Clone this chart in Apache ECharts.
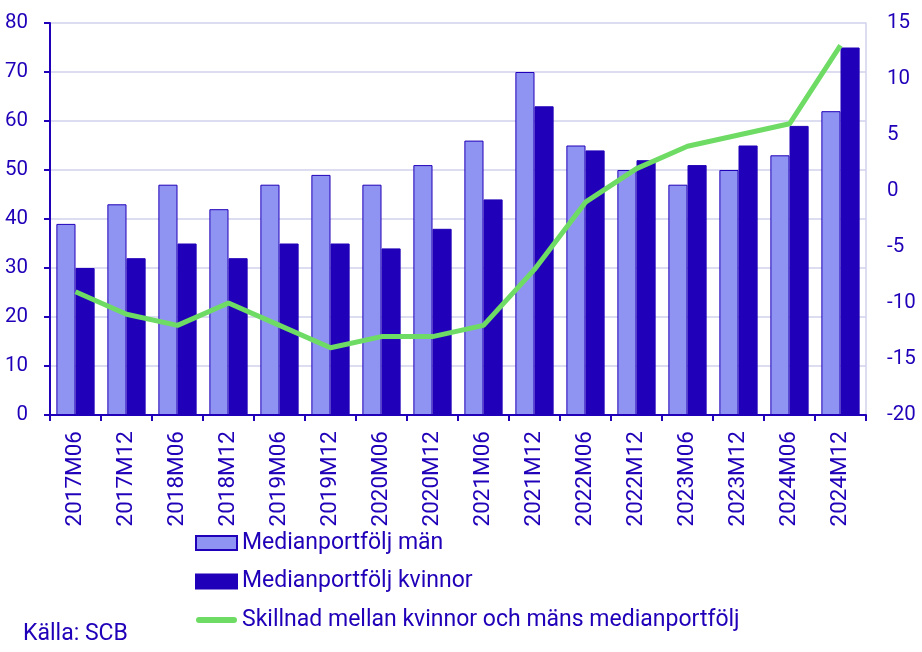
<!DOCTYPE html>
<html>
<head>
<meta charset="utf-8">
<script src="https://cdn.jsdelivr.net/npm/echarts@6/dist/echarts.min.js"></script>
<style>html,body{margin:0;padding:0;background:#fff}#c{width:922px;height:652px}</style>
</head>
<body>
<div id="c"></div>
<script>
const categories = ['2017M06','2017M12','2018M06','2018M12','2019M06','2019M12','2020M06','2020M12','2021M06','2021M12','2022M06','2022M12','2023M06','2023M12','2024M06','2024M12'];
const men = [39,43,47,42,47,49,47,51,56,70,55,50,47,50,53,62];
const women = [30,32,35,32,35,35,34,38,44,63,54,52,51,55,59,75];
const diff = [-9,-11,-12,-10,-12,-14,-13,-13,-12,-7,-1,2,4,5,6,13];
const leftTicks = {min:0,max:80,interval:10};
const rightTicks = {min:-20,max:15,interval:5};
const names = ['Medianportfölj män','Medianportfölj kvinnor','Skillnad mellan kvinnor och mäns medianportfölj'];

const DARK = '#2000B8', LIGHT = '#8F94F2', GREEN = '#6EDC64', GRID = '#D2D2EE';
const FONT = 'Roboto';
const chart = echarts.init(document.getElementById('c'), null, {renderer:'canvas'});
chart.setOption({
  animation:false,
  backgroundColor:'#fff',
  textStyle:{fontFamily:FONT,color:DARK},
  grid:{left:50,right:56,top:23,bottom:237,containLabel:false},
  legend:{
    orient:'vertical',left:195,top:531,padding:0,itemWidth:41,itemHeight:14,itemGap:14.5,
    textStyle:{fontFamily:FONT,fontSize:23,color:DARK,lineHeight:24},
    data:[
      {name:names[0],icon:'rect'},
      {name:names[1],icon:'rect'},
      {name:names[2],icon:'path://M3,0H38A3,3 0 0 1 38,6H3A3,3 0 0 1 3,0Z',itemStyle:{color:GREEN,borderWidth:0}}
    ]
  },
  graphic:[{type:'text',left:23,top:623,style:{text:'Källa: SCB',font:'23px Roboto',fill:DARK}}],
  xAxis:{
    type:'category',data:categories,
    axisLine:{lineStyle:{color:DARK,width:2}},
    axisTick:{show:true,length:6,lineStyle:{color:DARK,width:2},alignWithLabel:false},
    axisLabel:{rotate:90,margin:16,fontSize:22.5,fontFamily:FONT,color:DARK,interval:0}
  },
  yAxis:[
    {type:'value',min:leftTicks.min,max:leftTicks.max,interval:leftTicks.interval,
     axisLine:{show:true,lineStyle:{color:DARK,width:2}},
     axisTick:{show:true,length:6,lineStyle:{color:DARK,width:2}},
     axisLabel:{margin:22,fontSize:20.5,fontFamily:FONT,color:DARK},
     splitLine:{show:true,lineStyle:{color:GRID,width:1.5}}},
    {type:'value',min:rightTicks.min,max:rightTicks.max,interval:rightTicks.interval,position:'right',
     axisLine:{show:true,lineStyle:{color:GRID,width:1.5}},
     axisTick:{show:false},
     axisLabel:{margin:21,fontSize:20.5,fontFamily:FONT,color:DARK,align:'left'},
     splitLine:{show:false}}
  ],
  series:[
    {name:names[0],type:'bar',data:men,barGap:'0%',barCategoryGap:'25%',
     itemStyle:{color:LIGHT,borderColor:DARK,borderWidth:1}},
    {name:names[1],type:'bar',data:women,
     itemStyle:{color:DARK,borderColor:DARK,borderWidth:1}},
    {name:names[2],type:'line',yAxisIndex:1,data:diff,symbol:'none',z:5,
     lineStyle:{color:GREEN,width:5},itemStyle:{color:GREEN}}
  ]
});
</script>
</body>
</html>
